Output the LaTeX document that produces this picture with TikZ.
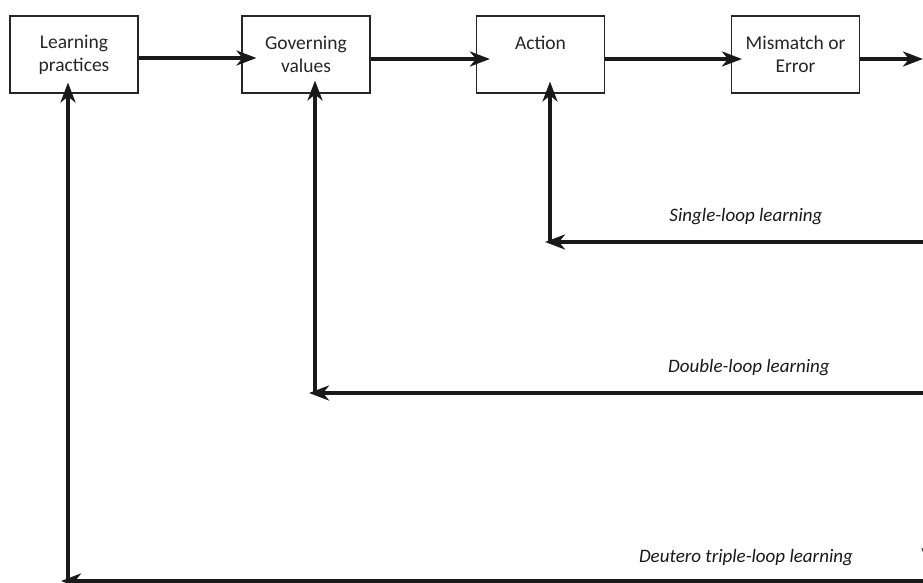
\documentclass[tikz,border=0pt]{standalone}
\usepackage{fontspec}
\setmainfont{Carlito}
\usetikzlibrary{arrows.meta}
\begin{document}
\begin{tikzpicture}[x=1pt,y=-1pt,
  box/.style={draw=black!85,line width=1.1pt,rectangle,minimum width=128pt,minimum height=77pt,
     align=center,font=\fontsize{19.5}{23}\selectfont,text=black!85,inner sep=0pt},
  arr/.style={line width=3.4pt,draw=black!90,-{Stealth[length=20pt,width=15pt,inset=6pt]}},
  lbl/.style={font=\fontsize{19}{22}\selectfont\itshape,text=black!90,inner sep=0pt}]
\useasboundingbox (0,0) rectangle (923,583);
% boxes
\node[box] (lp)  at (74,54.5)  {Learning\\practices};
\node[box] (gv)  at (306,54.5) {Governing\\values};
\node[box] (act) at (540.5,54.5) {Action\\\phantom{A}};
\node[box] (mm)  at (795.5,54.5) {Mismatch or\\Error};
% forward arrows
\coordinate (out) at (923,59);
\draw[arr,shorten >=-15pt] ([yshift=-3.5pt]lp.east) -- ([yshift=-3.5pt]gv.west);
\draw[arr,shorten >=-14pt] ([yshift=-4.5pt]gv.east) -- ([yshift=-4.5pt]act.west);
\draw[arr,shorten >=-11pt] ([yshift=-4.5pt]act.east) -- ([yshift=-4.5pt]mm.west);
\draw[arr] ([yshift=-4.5pt]mm.east) -- (out);
% right side (off page)
\coordinate (rtop) at (929,59);
\coordinate (rbot) at (929,568);
\draw[arr] (rtop) -- (rbot);
% single loop
\coordinate (s1) at (935,242);
\coordinate (s2) at (550,242);
\draw[arr,shorten >=-5pt] (s1) -- (s2);
\draw[arr,shorten >=-12pt] (s2) -- (s2 |- act.south);
\node[lbl] (sl) at (746,217) {Single-loop learning};
% double loop
\coordinate (d1) at (935,393);
\coordinate (d2) at (315,393);
\draw[arr,shorten >=-6pt] (d1) -- (d2);
\draw[arr,shorten >=-13pt] (d2) -- (d2 |- gv.south);
\node[lbl] (dl) at (749,368) {Double-loop learning};
% triple loop
\coordinate (t1) at (935,581);
\coordinate (t2) at (68,581);
\draw[arr,shorten >=-7pt] (t1) -- (t2);
\draw[arr,shorten >=-11pt] (t2) -- (t2 |- lp.south);
\node[lbl] (tl) at (746,558) {Deutero triple-loop learning};
\end{tikzpicture}
\end{document}
